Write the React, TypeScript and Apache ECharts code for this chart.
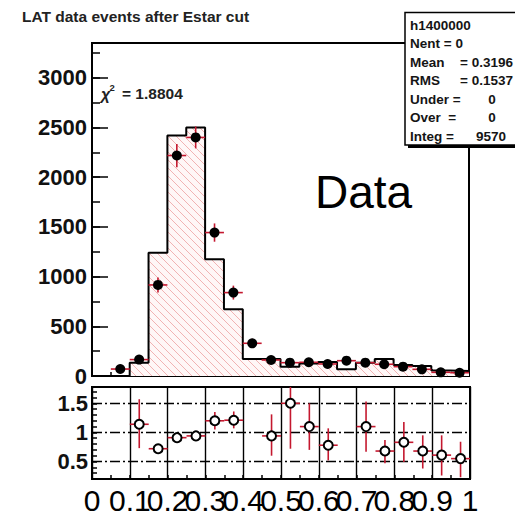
import React, { useEffect, useRef } from 'react';
import * as echarts from 'echarts';

// ---------------- data ----------------
// MC histogram: left edges of bins (width 0.05) and contents
const mcLeftEdges = [0.1, 0.15, 0.2, 0.25, 0.3, 0.35, 0.4, 0.45, 0.5, 0.55, 0.6, 0.65, 0.7, 0.75, 0.8, 0.85, 0.9, 0.95];
const mcValues = [134, 1240, 2420, 2500, 1175, 672, 171, 171, 92, 127, 140, 67, 134, 171, 111, 100, 55, 50];
const histMaxEdge = 1.0;

// Data points (bin centres)
const dataCenters = [0.075, 0.125, 0.175, 0.225, 0.275, 0.325, 0.375, 0.425, 0.475, 0.525, 0.575, 0.625, 0.675, 0.725, 0.775, 0.825, 0.875, 0.925, 0.975];
const dataValues = [70, 165, 916, 2218, 2400, 1443, 839, 329, 161, 134, 138, 121, 154, 134, 118, 94, 67, 37, 33];
const dataErrors = [22, 32, 75, 117, 110, 92, 70, 45, 30, 28, 28, 27, 30, 28, 27, 24, 20, 15, 14];

// Ratio panel
const ratioCenters = [0.125, 0.175, 0.225, 0.275, 0.325, 0.375, 0.475, 0.525, 0.575, 0.625, 0.725, 0.775, 0.825, 0.875, 0.925, 0.975];
const ratioValues = [1.14, 0.72, 0.91, 0.94, 1.2, 1.21, 0.94, 1.5, 1.1, 0.78, 1.1, 0.68, 0.83, 0.68, 0.61, 0.55];
const ratioLow = [0.73, 0.67, 0.87, 0.9, 1.05, 1.07, 0.6, 0.72, 0.7, 0.52, 0.67, 0.47, 0.49, 0.38, 0.26, 0.23];
const ratioHigh = [1.57, 0.77, 0.95, 0.99, 1.35, 1.36, 1.31, 1.85, 1.5, 1.07, 1.53, 0.87, 1.18, 0.95, 0.95, 0.84];
const ratioGridLines = [0.5, 1, 1.5];

const halfBin = 0.025;

// Axis ranges / ticks
const topYMax = 3350;
const topYMajor = 500;
const topYMinor = 250;
const ratioYMin = 0.2;
const ratioYMax = 1.78;
const ratioYLabels = ['0.5', '1', '1.5'];

// Stats box
const statsTitle = 'h1400000';
const statsNames = ['Nent = 0', 'Mean', 'RMS', 'Under =', 'Over  =', 'Integ ='];
const statsValues = ['', '= 0.3196', '= 0.1537', '0', '0', '9570'];

const FONT = '"Liberation Sans", Arial, Helvetica, sans-serif';
const RED = '#c4182f';

function makeHatch(): string {
  const s = 8;
  const c = document.createElement('canvas');
  c.width = s;
  c.height = s;
  const g = c.getContext('2d')!;
  g.fillStyle = '#fff7f7';
  g.fillRect(0, 0, s, s);
  g.strokeStyle = 'rgba(225,95,95,0.45)';
  g.lineWidth = 1;
  g.beginPath();
  g.moveTo(-1, -1); g.lineTo(s + 1, s + 1);
  g.moveTo(-s - 1, -1); g.lineTo(1, s + 1);
  g.moveTo(s - 1, -1); g.lineTo(2 * s + 1, s + 1);
  g.stroke();
  return c.toDataURL();
}

export default function App() {
  const ref = useRef<HTMLDivElement>(null);

  useEffect(() => {
    if (!ref.current) return;
    const chart = echarts.init(ref.current, null, { renderer: 'svg' });
    const hatch = makeHatch();

    const stepData: number[][] = [[mcLeftEdges[0], 0]];
    mcLeftEdges.forEach((x, i) => stepData.push([x, mcValues[i]]));
    stepData.push([histMaxEdge, mcValues[mcValues.length - 1]]);

    const dataErr = dataCenters.map((x, i) => [x, dataValues[i], dataValues[i] - dataErrors[i], dataValues[i] + dataErrors[i]]);
    const ratioErr = ratioCenters.map((x, i) => [x, ratioValues[i], ratioLow[i], ratioHigh[i]]);

    const errRender = (params: any, api: any) => {
      const x = api.value(0), y = api.value(1), lo = api.value(2), hi = api.value(3);
      const a = api.coord([x - halfBin, y]);
      const b = api.coord([x + halfBin, y]);
      const c = api.coord([x, lo]);
      const d = api.coord([x, hi]);
      const st = { stroke: RED, lineWidth: 1.6 };
      return {
        type: 'group',
        children: [
          { type: 'line', shape: { x1: a[0], y1: a[1], x2: b[0], y2: b[1] }, style: st },
          { type: 'line', shape: { x1: c[0], y1: c[1], x2: d[0], y2: d[1] }, style: st },
        ],
      };
    };

    const tickStyle = { color: '#000', width: 1.5 };
    const labelNum = (v: number) => Math.round(v * 100) / 100;

    const boxX = 405, boxY = 12.5, boxW = 125, boxH = 132.5;
    const lineY0 = 25, lineDy = 18.5;
    const statFont = { fontSize: 13.5, fontWeight: 'bold', fontFamily: FONT, fill: '#151515' };

    const graphics: any[] = [
      { type: 'text', z: 20, style: { text: 'LAT data events after Estar cut', x: 22, y: 16, textVerticalAlign: 'middle', fontSize: 15.5, fontWeight: 'bold', fontFamily: FONT, fill: '#222' } },
      { type: 'text', z: 20, style: { text: 'χ', x: 101, y: 94.5, textVerticalAlign: 'middle', fontSize: 16, fontStyle: 'italic', fontWeight: 'bold', fontFamily: FONT, fill: '#222' } },
      { type: 'text', z: 20, style: { text: '2', x: 109.5, y: 87.5, textVerticalAlign: 'middle', fontSize: 9.5, fontWeight: 'bold', fontFamily: FONT, fill: '#222' } },
      { type: 'text', z: 20, style: { text: '= 1.8804', x: 122, y: 93.5, textVerticalAlign: 'middle', fontSize: 15.5, fontWeight: 'bold', fontFamily: FONT, fill: '#222' } },
      { type: 'text', z: 20, style: { text: 'Data', x: 315, y: 192, textVerticalAlign: 'middle', fontSize: 46, fontFamily: FONT, fill: '#000' } },
      { type: 'rect', z: 20, shape: { x: boxX + 3, y: boxY + 3, width: boxW, height: boxH }, style: { fill: '#000' } },
      { type: 'rect', z: 21, shape: { x: boxX, y: boxY, width: boxW, height: boxH }, style: { fill: '#fff', stroke: '#000', lineWidth: 1.5 } },
      { type: 'text', z: 22, style: { text: statsTitle, x: 410, y: lineY0, textVerticalAlign: 'middle', ...statFont } },
    ];
    const valueX = [0, 513, 513, 492, 492, 506];
    const valueAlign = ['left', 'right', 'right', 'center', 'center', 'right'];
    statsNames.forEach((name, i) => {
      const y = lineY0 + (i + 1) * lineDy;
      graphics.push({ type: 'text', z: 22, style: { text: name, x: 410, y, textVerticalAlign: 'middle', ...statFont } });
      if (statsValues[i]) {
        graphics.push({ type: 'text', z: 22, style: { text: statsValues[i], x: valueX[i], y, textAlign: valueAlign[i], textVerticalAlign: 'middle', ...statFont } });
      }
    });

    chart.setOption({
      animation: false,
      backgroundColor: '#fff',
      textStyle: { fontFamily: FONT },
      grid: [
        { left: 92, top: 43, width: 377, height: 333, show: true, borderColor: '#000', borderWidth: 2, backgroundColor: 'transparent', containLabel: false, outerBoundsMode: 'none' },
        { left: 92, top: 387, width: 378, height: 92, show: true, borderColor: '#000', borderWidth: 2, backgroundColor: 'transparent', containLabel: false, outerBoundsMode: 'none' },
      ],
      xAxis: [
        {
          type: 'value', gridIndex: 0, min: 0, max: 1, interval: 0.1,
          axisLine: { show: false },
          axisTick: { show: true, inside: true, length: 7, lineStyle: tickStyle },
          minorTick: { show: true, splitNumber: 2, length: 4, lineStyle: tickStyle },
          axisLabel: { show: false },
          splitLine: { show: false },
        },
        {
          type: 'value', gridIndex: 1, min: 0, max: 1, interval: 0.1,
          axisLine: { show: false },
          axisTick: { show: true, inside: true, length: 4, lineStyle: tickStyle },
          minorTick: { show: true, splitNumber: 2, length: 4, lineStyle: tickStyle },
          axisLabel: { show: true, fontSize: 30, color: '#000', margin: 6, fontFamily: FONT, formatter: (v: number) => String(labelNum(v)) },
          splitLine: { show: true, lineStyle: { color: '#000', width: 1.4, type: 'solid' } },
        },
      ],
      yAxis: [
        {
          type: 'value', gridIndex: 0, min: 0, max: topYMax, interval: topYMajor,
          axisLine: { show: false },
          axisTick: { show: true, inside: true, length: 16, lineStyle: tickStyle },
          axisLabel: { show: true, fontSize: 22, fontWeight: 'bold', color: '#111', margin: 5, fontFamily: FONT, formatter: (v: number) => (v % topYMajor === 0 ? String(v) : '') },
          splitLine: { show: false },
        },
        {
          type: 'value', gridIndex: 0, min: 0, max: topYMax, interval: topYMinor, position: 'left',
          axisLine: { show: false },
          axisTick: { show: true, inside: true, length: 8, lineStyle: tickStyle },
          axisLabel: { show: false },
          splitLine: { show: false },
        },
        {
          type: 'value', gridIndex: 1, min: ratioYMin, max: ratioYMax, interval: 0.1,
          axisLine: { show: false },
          axisTick: { show: true, inside: true, length: 5, lineStyle: tickStyle },
          axisLabel: {
            show: true, fontSize: 22, fontWeight: 'bold', color: '#111', margin: 4, fontFamily: FONT,
            formatter: (v: number) => { const s = String(labelNum(v)); return ratioYLabels.indexOf(s) >= 0 ? s : ''; },
          },
          splitLine: { show: false },
        },
      ],
      series: [
        {
          name: 'MC', type: 'line', xAxisIndex: 0, yAxisIndex: 0, step: 'end', data: stepData,
          symbol: 'none', lineStyle: { color: '#000', width: 2 },
          areaStyle: { color: { image: hatch, repeat: 'repeat', imageWidth: 8, imageHeight: 8 } as any, opacity: 1 },
          z: 2,
        },
        {
          name: 'DataErr', type: 'custom', xAxisIndex: 0, yAxisIndex: 0, data: dataErr,
          encode: { x: 0, y: 1 }, renderItem: errRender, z: 3, clip: true,
        },
        {
          name: 'Data', type: 'scatter', xAxisIndex: 0, yAxisIndex: 0,
          data: dataCenters.map((x, i) => [x, dataValues[i]]),
          symbol: 'circle', symbolSize: 10, itemStyle: { color: '#000', opacity: 1 }, z: 4,
        },
        {
          name: 'RatioErr', type: 'custom', xAxisIndex: 1, yAxisIndex: 2, data: ratioErr,
          encode: { x: 0, y: 1 }, renderItem: errRender, z: 3, clip: true,
        },
        {
          name: 'Ratio', type: 'scatter', xAxisIndex: 1, yAxisIndex: 2,
          data: ratioCenters.map((x, i) => [x, ratioValues[i]]),
          symbol: 'circle', symbolSize: 9, itemStyle: { color: '#fff', borderColor: '#000', borderWidth: 2, opacity: 1 }, z: 4,
          markLine: {
            silent: true, symbol: 'none', label: { show: false },
            lineStyle: { color: '#000', width: 1.4, type: [10, 3, 2, 3] },
            data: ratioGridLines.map((v) => ({ yAxis: v })),
            z: 1,
          },
        },
      ],
      graphic: graphics,
    } as any);

    return () => chart.dispose();
  }, []);

  return <div ref={ref} style={{ position: 'fixed', left: 0, top: 0, width: 515, height: 515, background: '#fff' }} />;
}
